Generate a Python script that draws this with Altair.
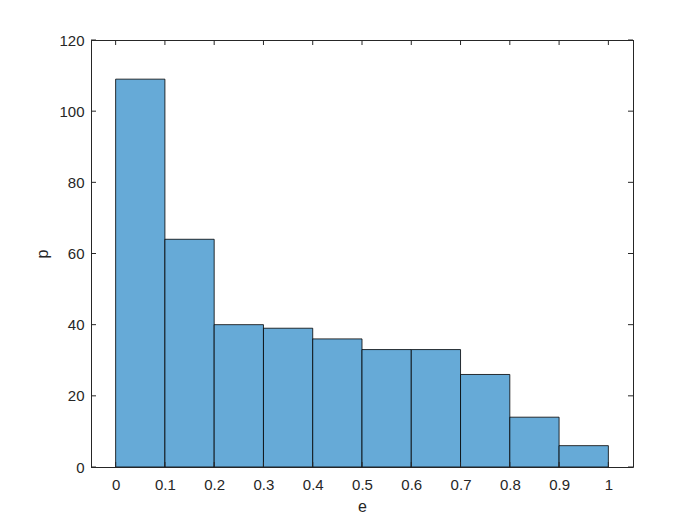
import altair as alt
import pandas as pd

bin_start = [0.0, 0.1, 0.2, 0.3, 0.4, 0.5, 0.6, 0.7, 0.8, 0.9]
bin_end = [0.1, 0.2, 0.3, 0.4, 0.5, 0.6, 0.7, 0.8, 0.9, 1.0]
counts = [109, 64, 40, 39, 36, 33, 33, 26, 14, 6]
x_ticks = [0.0, 0.1, 0.2, 0.3, 0.4, 0.5, 0.6, 0.7, 0.8, 0.9, 1.0]
y_ticks = [0, 20, 40, 60, 80, 100, 120]

W, H = 542, 427
TICK = 5
TXT = "#262626"
FONT = "Liberation Sans"

bars_df = pd.DataFrame({"a": bin_start, "b": bin_end, "n": counts, "z": [0] * len(counts)})
xt_df = pd.DataFrame({"v": x_ticks})
yt_df = pd.DataFrame({"v": y_ticks})

xscale = alt.Scale(domain=[-0.05, 1.05], nice=False, zero=False, padding=0)
yscale = alt.Scale(domain=[0, 120], nice=False, padding=0)

bars = alt.Chart(bars_df).mark_bar(
    color="#66AAD7", stroke="#000000", strokeWidth=0.8, opacity=1
).encode(
    x=alt.X("a:Q", scale=xscale, title="e",
            axis=alt.Axis(values=x_ticks, format=".1~f", ticks=False, grid=False,
                          labelFontSize=15, labelColor=TXT, labelPadding=10,
                          titleFontSize=16, titleColor=TXT, titleFontWeight="normal",
                          titlePadding=6, domain=False, labelFont=FONT,
                          titleFont=FONT)),
    x2="b:Q",
    y=alt.Y("n:Q", scale=yscale, title="p",
            axis=alt.Axis(values=y_ticks, ticks=False, grid=False,
                          labelFontSize=15, labelColor=TXT, labelPadding=7,
                          titleFontSize=16, titleColor=TXT, titleFontWeight="normal",
                          titlePadding=8, domain=False, labelFont=FONT,
                          titleFont=FONT)),
    y2="z:Q",
)

tick_style = dict(color=TXT, strokeWidth=1)
xb = alt.Chart(xt_df).mark_rule(**tick_style).encode(
    x=alt.X("v:Q", scale=xscale), y=alt.value(H), y2=alt.value(H - TICK))
xtop = alt.Chart(xt_df).mark_rule(**tick_style).encode(
    x=alt.X("v:Q", scale=xscale), y=alt.value(0), y2=alt.value(TICK))
yl = alt.Chart(yt_df).mark_rule(**tick_style).encode(
    y=alt.Y("v:Q", scale=yscale), x=alt.value(0), x2=alt.value(TICK))
yr = alt.Chart(yt_df).mark_rule(**tick_style).encode(
    y=alt.Y("v:Q", scale=yscale), x=alt.value(W), x2=alt.value(W - TICK))

frame_df = pd.DataFrame({"side": ["top", "bottom", "left", "right"]})
frame_top = alt.Chart(frame_df).transform_filter("datum.side == 'top'").mark_rule(**tick_style).encode(
    x=alt.value(0), x2=alt.value(W + 0.5), y=alt.value(0.5))
frame_bottom = alt.Chart(frame_df).transform_filter("datum.side == 'bottom'").mark_rule(**tick_style).encode(
    x=alt.value(0), x2=alt.value(W + 0.5), y=alt.value(H + 0.5))
frame_left = alt.Chart(frame_df).transform_filter("datum.side == 'left'").mark_rule(**tick_style).encode(
    x=alt.value(0.5), y=alt.value(0), y2=alt.value(H + 0.5))
frame_right = alt.Chart(frame_df).transform_filter("datum.side == 'right'").mark_rule(**tick_style).encode(
    x=alt.value(W + 0.5), y=alt.value(0), y2=alt.value(H + 0.5))

chart = alt.layer(bars, xb, xtop, yl, yr, frame_top, frame_bottom, frame_left, frame_right).properties(
    width=W, height=H,
    autosize=alt.AutoSizeParams(type="none"),
    padding={"left": 83, "top": 32, "right": 59, "bottom": 50},
).configure_view(stroke=None).configure(background="white")

chart.save("out.html", embed_options={"renderer": "svg", "actions": False})
